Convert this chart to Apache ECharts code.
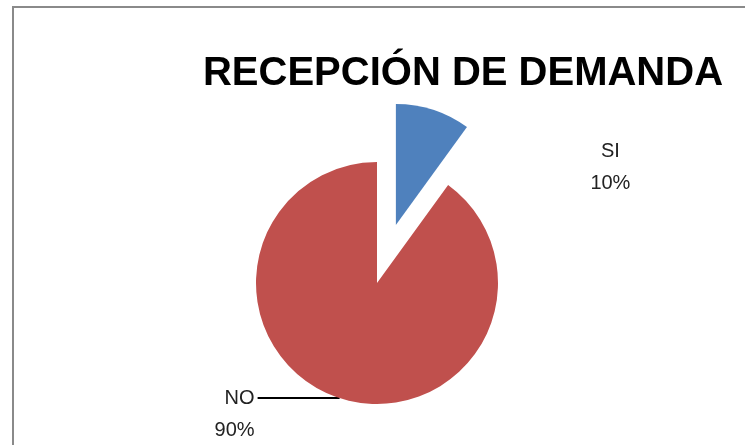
<!DOCTYPE html>
<html>
<head>
<meta charset="utf-8">
<script src="https://cdn.jsdelivr.net/npm/echarts@6/dist/echarts.min.js"></script>
<style>
  html, body { margin: 0; padding: 0; background: #fff; overflow: hidden; }
  #frame {
    position: absolute; left: 12px; top: 6px; width: 900px; height: 600px;
    border-left: 2px solid #8a8a8a; border-top: 2px solid #8a8a8a;
  }
  #main { position: absolute; left: 0; top: 0; width: 745px; height: 445px; }
</style>
</head>
<body>
<div id="frame"></div>
<div id="main"></div>
<script>
var categories = ["SI", "NO"];
var values = [10, 90];
var colors = ["#4F81BD", "#C0504D"];

var myChart = echarts.init(document.getElementById("main"));

var labelFont = {
  fontFamily: "Liberation Sans",
  fontSize: 20,
  lineHeight: 32,
  color: "#222",
};

// visible pie: SI slice exploded, only the NO label with its leader line
var pieData = categories.map(function (name, i) {
  var item = {
    name: name,
    value: values[i],
    itemStyle: { color: colors[i] },
  };
  if (i === 0) {
    item.selected = true;
    item.label = { show: false };
    item.labelLine = { show: false };
  }
  return item;
});

// same pie, invisible and not exploded, only carries the SI label
var labelData = categories.map(function (name, i) {
  return {
    name: name,
    value: values[i],
    label: { show: i === 0 },
    labelLine: { show: false },
  };
});

myChart.setOption({
  animation: false,
  title: {
    text: "RECEPCIÓN DE DEMANDA",
    left: 458,
    top: 49,
    textAlign: "center",
    textStyle: {
      fontFamily: "Liberation Sans",
      fontWeight: "bold",
      fontSize: 40,
      color: "#000",
    },
  },
  series: [
    {
      type: "pie",
      center: [377, 283],
      radius: 121,
      startAngle: 90,
      clockwise: true,
      selectedMode: "single",
      selectedOffset: 61,
      avoidLabelOverlap: false,
      data: pieData,
      label: Object.assign({
        show: true,
        position: "outside",
        formatter: "\n{b}\n{d}%",
        distanceToLabelLine: 3,
      }, labelFont),
      labelLine: {
        show: true,
        length: 0,
        length2: 82,
        smooth: false,
        lineStyle: { color: "#000", width: 2 },
      },
      emphasis: { disabled: true },
    },
    {
      type: "pie",
      center: [377, 283],
      radius: 121,
      startAngle: 90,
      clockwise: true,
      selectedMode: false,
      silent: true,
      avoidLabelOverlap: false,
      itemStyle: { color: "rgba(0,0,0,0)" },
      data: labelData,
      label: Object.assign({
        position: "outside",
        formatter: "{c|{b}}\n{c|{d}%}",
        distanceToLabelLine: 3,
        rich: {
          c: Object.assign({ width: 44, align: "center" }, labelFont),
        },
      }, labelFont),
      labelLine: { length: 0, length2: 171 },
      emphasis: { disabled: true },
    },
  ],
});
</script>
</body>
</html>
